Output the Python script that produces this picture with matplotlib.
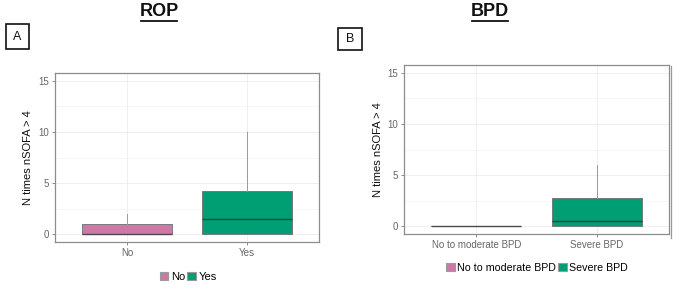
import matplotlib
matplotlib.use("Agg")
import matplotlib.pyplot as plt
from matplotlib.patches import Patch, Rectangle
from matplotlib.lines import Line2D

plt.rcParams['font.family'] = ['Liberation Sans', 'DejaVu Sans']

# ---- data ----
rop_categories = ["No", "Yes"]
rop_q1 = [0, 0]
rop_median = [0, 1.5]
rop_q3 = [1, 4.25]
rop_whislo = [0, 0]
rop_whishi = [2, 10]

bpd_categories = ["No to moderate BPD", "Severe BPD"]
bpd_q1 = [0, 0]
bpd_median = [0, 0.5]
bpd_q3 = [0, 2.75]
bpd_whislo = [0, 0]
bpd_whishi = [0, 6]

y_ticks = [0, 5, 10, 15]
colors = ["#CC79A7", "#009E73"]
median_colors = ["#4a4a4a", "#1d4a3c"]

W, H = 676, 292
fig = plt.figure(figsize=(W / 100, H / 100), dpi=100)


def add_ax(left, right, top, bottom):
    return fig.add_axes([left / W, 1 - bottom / H, (right - left) / W, (bottom - top) / H])


def draw_panel(ax, cats, q1, med, q3, lo, hi):
    stats = []
    for i, c in enumerate(cats):
        stats.append(dict(label=c, q1=q1[i], med=med[i], q3=q3[i], whislo=lo[i], whishi=hi[i], fliers=[]))
    bp = ax.bxp(stats, positions=[1, 2], widths=0.75, patch_artist=True, showcaps=False,
                whiskerprops=dict(color="#9a9a9a", linewidth=0.7),
                medianprops=dict(linewidth=1.0))
    for i, b in enumerate(bp['boxes']):
        b.set_facecolor(colors[i])
        b.set_edgecolor("#6e6e6e")
        b.set_linewidth(0.6)
    for i, m in enumerate(bp['medians']):
        m.set_color(median_colors[i])
    ax.set_xlim(0.4, 2.6)
    ax.set_ylim(-0.75, 15.75)
    ax.set_yticks(y_ticks)
    ax.set_yticks([2.5, 7.5, 12.5], minor=True)
    ax.set_xticks([1, 2])
    ax.set_xticklabels(cats)
    ax.grid(True, which='major', color='#ececec', linewidth=0.6)
    ax.grid(True, which='minor', axis='y', color='#f3f3f3', linewidth=0.5)
    ax.set_axisbelow(True)
    for s in ax.spines.values():
        s.set_color('#8c8c8c')
        s.set_linewidth(0.9)
    ax.tick_params(axis='both', which='major', labelsize=7, colors='#7a7a7a', length=2.5, width=0.6, pad=2)
    ax.tick_params(axis='both', which='minor', length=0)
    for lbl in ax.get_xticklabels() + ax.get_yticklabels():
        lbl.set_color('#666666')


axA = add_ax(55, 319, 73, 242)
draw_panel(axA, rop_categories, rop_q1, rop_median, rop_q3, rop_whislo, rop_whishi)
axB = add_ax(404, 669, 65, 234)
draw_panel(axB, bpd_categories, bpd_q1, bpd_median, bpd_q3, bpd_whislo, bpd_whishi)

# y labels
fig.text(28 / W, 1 - 158 / H, "N times nSOFA > 4", rotation=90, ha='center', va='center', fontsize=8, color='#111111')
fig.text(378 / W, 1 - 150 / H, "N times nSOFA > 4", rotation=90, ha='center', va='center', fontsize=8, color='#111111')

# titles (bold, underlined)
for txt, x in [("ROP", 159), ("BPD", 490)]:
    t = fig.text(x / W, 1 - 12 / H, txt, ha='center', va='center', fontsize=13, fontweight='bold', color='#111111')
    fig.add_artist(Line2D([(x - 18) / W, (x + 18) / W], [1 - 20.5 / H] * 2, color='#111111', linewidth=1.3))

# panel letter boxes
for letter, (l, r, t, b) in [("A", (6, 29, 24, 49)), ("B", (338, 362, 28, 50))]:
    fig.add_artist(Rectangle((l / W, 1 - b / H), (r - l) / W, (b - t) / H, transform=fig.transFigure,
                             fill=False, edgecolor='#111111', linewidth=1.2))
    fig.text((l + r) / 2 / W, 1 - (t + b) / 2 / H, letter, ha='center', va='center', fontsize=9, color='#111111')

# extra border line on panel B right side
fig.add_artist(Line2D([671 / W, 671 / W], [1 - 66 / H, 1 - 238 / H], color='#9a9a9a', linewidth=0.9))

# legends
handlesA = [Patch(facecolor=colors[i], edgecolor='#9a9a9a', linewidth=0.8, label=c) for i, c in enumerate(rop_categories)]
legA = fig.legend(handles=handlesA, loc='center', bbox_to_anchor=(188 / W, 1 - 277 / H), ncol=2, frameon=False,
                  fontsize=8, handlelength=0.8, handleheight=0.8, handletextpad=0.2, columnspacing=0.2, borderpad=0)
handlesB = [Patch(facecolor=colors[i], edgecolor='#9a9a9a', linewidth=0.8, label=c) for i, c in enumerate(bpd_categories)]
legB = fig.legend(handles=handlesB, loc='center', bbox_to_anchor=(537 / W, 1 - 268 / H), ncol=2, frameon=False,
                  fontsize=7.7, handlelength=0.8, handleheight=0.8, handletextpad=0.2, columnspacing=0.2, borderpad=0)

fig.savefig("out.png", dpi=100)
